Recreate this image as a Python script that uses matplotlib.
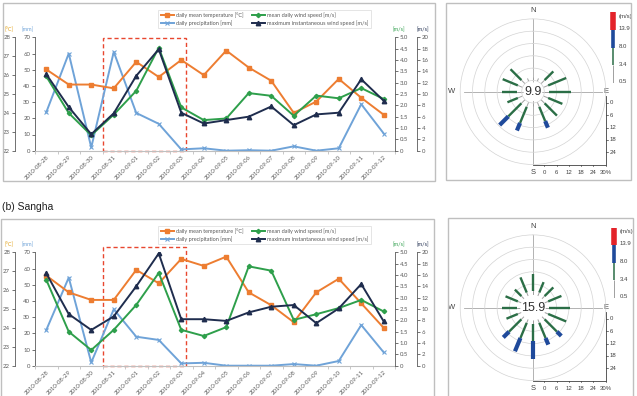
import numpy as np
import matplotlib.pyplot as plt
from matplotlib.patches import Rectangle

plt.rcParams['font.family'] = ['Lato', 'DejaVu Sans']

W, H = 637, 396

dates = ['2010-08-28', '2010-08-29', '2010-08-30', '2010-08-31',
         '2010-09-01', '2010-09-02', '2010-09-03', '2010-09-04',
         '2010-09-05', '2010-09-06', '2010-09-07', '2010-09-08',
         '2010-09-09', '2010-09-10', '2010-09-11', '2010-09-12']

# (a) upper station
temp_a = [26.3, 25.5, 25.5, 25.3, 26.7, 25.9, 26.8, 26.0, 27.3, 26.4, 25.7, 24.0, 24.6, 25.8, 24.8, 23.9]
prec_a = [23.7, 60.0, 2.0, 61.0, 23.3, 16.6, 0.8, 1.5, 0.0, 0.3, 0.0, 2.7, 0.0, 1.5, 28.7, 10.6]
wind_a = [3.28, 1.66, 0.68, 1.59, 2.64, 4.54, 1.91, 1.35, 1.42, 2.54, 2.42, 1.54, 2.43, 2.31, 2.76, 2.28]
gust_a = [13.5, 7.7, 2.9, 6.6, 13.2, 17.9, 6.7, 4.8, 5.4, 6.0, 7.8, 4.5, 6.4, 6.7, 12.6, 8.8]

# (b) Sangha
temp_b = [26.77, 25.88, 25.48, 25.48, 27.07, 26.36, 27.65, 27.28, 27.77, 25.88, 25.2, 24.3, 25.88, 26.6, 25.3, 24.0]
prec_b = [22.0, 54.4, 2.0, 34.8, 17.9, 15.9, 1.4, 1.8, 0.0, 0.0, 0.0, 1.0, 0.0, 2.9, 25.1, 8.2]
wind_b = [3.79, 1.5, 0.69, 1.58, 2.68, 4.09, 1.58, 1.31, 1.7, 4.38, 4.19, 2.02, 2.27, 2.54, 2.9, 2.39]
gust_b = [16.3, 9.1, 6.3, 8.7, 14.0, 19.8, 8.2, 8.2, 7.9, 9.4, 10.4, 10.7, 7.5, 10.1, 14.4, 7.8]

# highlighted period, in category positions
highlight = (2.5, 6.2)

# wind roses: percent of time per direction and speed class
directions = ['N', 'NNE', 'NE', 'ENE', 'E', 'ESE', 'SE', 'SSE',
              'S', 'SSW', 'SW', 'WSW', 'W', 'WNW', 'NW', 'NNW']
speed_bounds = ['0.5', '3.4', '8.0', '13.9']

calm_a = 9.9
low_a = [1.5, 1.5, 2.5, 2.5, 2.5, 2.5, 2.5, 2.5, 1.5, 2.5, 2.5, 2.5, 2.5, 2.5, 2.5, 1.5]
mid_a = [0.0, 0.0, 6.0, 9.5, 10.5, 7.5, 8.5, 7.5, 0.0, 8.5, 9.0, 5.5, 7.0, 8.0, 7.5, 0.0]
high_a = [0.0, 0.0, 0.0, 0.0, 0.0, 0.0, 0.0, 3.5, 0.0, 4.0, 6.0, 0.0, 0.0, 0.0, 0.0, 0.0]
top_a = [0.0] * 16

calm_b = 15.9
low_b = [2.5, 2.5, 2.5, 2.5, 2.5, 2.5, 2.5, 2.5, 2.5, 2.5, 2.5, 2.5, 2.5, 2.5, 2.5, 2.5]
mid_b = [8.5, 5.5, 6.0, 7.0, 10.0, 9.5, 8.5, 8.0, 8.0, 8.0, 8.5, 6.0, 7.0, 6.5, 4.5, 8.0]
high_b = [0.0, 0.0, 0.0, 0.0, 0.0, 0.0, 3.0, 3.5, 9.0, 7.0, 4.0, 0.0, 0.0, 0.0, 0.0, 0.0]
top_b = [0.0] * 16

orange = '#ED7D31'
lblue = '#6FA3D8'
green = '#2E9F4B'
navy = '#1F2D4E'
axis_col = '#595959'

fig = plt.figure(figsize=(W / 100, H / 100), dpi=100)


def frame(x0, y0, x1, y1):
    fig.add_artist(Rectangle((x0 / W, 1 - y1 / H), (x1 - x0) / W, (y1 - y0) / H,
                             transform=fig.transFigure, fill=False,
                             ec='#BFBFBF', lw=1.0))


def line_chart(top, temp, prec, wind, gust, rect_top, legend_top):
    hgt = 113.4
    ax = fig.add_axes([35 / W, 1 - (top + hgt) / H, 360 / W, hgt / H])
    ax.patch.set_alpha(0)
    x = np.arange(len(dates))
    axT = ax.twinx()
    axW = ax.twinx()
    axG = ax.twinx()

    lp, = ax.plot(x, prec, color=lblue, lw=1.4, marker='x', ms=3.5, mew=0.8)
    lt, = axT.plot(x, temp, color=orange, lw=1.4, marker='s', ms=2.8)
    lw_, = axW.plot(x, wind, color=green, lw=1.4, marker='D', ms=2.2)
    lg, = axG.plot(x, gust, color=navy, lw=1.4, marker='^', ms=3.2)

    ax.add_patch(Rectangle((highlight[0], 0), highlight[1] - highlight[0], rect_top,
                           fill=False, ec='#E8472F', lw=1.0, ls=(0, (3, 2)),
                           clip_on=False, zorder=0))

    ax.set_xlim(-0.5, len(dates) - 0.5)
    ax.set_ylim(0, 70)
    ax.set_yticks(np.arange(0, 71, 10))
    axT.set_ylim(22, 28)
    axT.set_yticks(np.arange(22, 29, 1))
    axW.set_ylim(0, 5)
    axW.set_yticks(np.arange(0, 5.01, 0.5))
    axW.set_yticklabels(['0'] + ['%.1f' % v for v in np.arange(0.5, 5.01, 0.5)])
    axG.set_ylim(0, 20)
    axG.set_yticks(np.arange(0, 21, 2))

    for a in (ax, axT, axW, axG):
        for s in a.spines.values():
            s.set_visible(False)
        a.tick_params(axis='y', length=2, width=0.6, color=axis_col,
                      labelsize=4.3, labelcolor=axis_col, pad=1.5)
    ax.spines['left'].set_visible(True)
    ax.spines['bottom'].set_visible(True)
    ax.spines['bottom'].set(color='#BFBFBF', lw=0.8)
    axT.yaxis.tick_left()
    axT.spines['left'].set_visible(True)
    axT.spines['left'].set_position(('outward', 14.4))
    axW.spines['right'].set_visible(True)
    axG.spines['right'].set_visible(True)
    axG.spines['right'].set_position(('outward', 15.8))
    for a, side in ((ax, 'left'), (axT, 'left'), (axW, 'right'), (axG, 'right')):
        a.spines[side].set(color=axis_col, lw=0.6)

    ax.set_xticks(x)
    ax.set_xticklabels(dates, rotation=45, ha='right', rotation_mode='anchor',
                       fontsize=4.3, color=axis_col)
    ax.tick_params(axis='x', length=0, pad=3)
    ax.set_xticks(np.arange(-0.5, len(dates)), minor=True)
    ax.tick_params(axis='x', which='minor', length=2, width=0.6, color='#BFBFBF')

    ty = 1 - (top - 8) / H
    fig.text(8.6 / W, ty, '[°C]', color='#E2A21B', fontsize=4, ha='center', va='center')
    fig.text(28 / W, ty, '[mm]', color=lblue, fontsize=4, ha='center', va='center')
    fig.text(398.5 / W, ty, '[m/s]', color=green, fontsize=4, ha='center', va='center')
    fig.text(422.5 / W, ty, '[m/s]', color=navy, fontsize=4, ha='center', va='center')

    leg = fig.legend([lt, lp, lw_, lg],
                     ['daily mean temperature [°C]', 'daily precipitation [mm]',
                      'mean daily wind speed [m/s]',
                      'maximum instantaneous wind speed [m/s]'],
                     loc='upper left', bbox_to_anchor=(155 / W, 1 - legend_top / H),
                     ncol=2, fontsize=4, frameon=True, fancybox=False,
                     handlelength=2.4, handletextpad=0.4, columnspacing=1.4,
                     borderpad=0.5, labelspacing=0.3, labelcolor=axis_col)
    leg.get_frame().set(edgecolor='#D9D9D9', lw=0.6)


def wind_rose(cx, cy, calm, classes, leg_x, leg_bottom, seg):
    R = 72.8
    pos = [(cx - R) / W, 1 - (cy + R) / H, 2 * R / W, 2 * R / H]
    lim = 35.5
    off = 5.5
    deco = fig.add_axes(pos)
    deco.set_xlim(-lim, lim)
    deco.set_ylim(-lim, lim)
    deco.axis('off')
    deco.plot([-lim + 2, lim - 2], [0, 0], color='#A6A6A6', lw=0.6)
    deco.plot([0, 0], [-lim, lim], color='#A6A6A6', lw=0.6)
    deco.plot([lim, lim, 0], [-2.2, -lim, -lim], color='#404040', lw=0.6, clip_on=False)
    for p in [0, 6, 12, 18, 24]:
        deco.plot([lim, lim + 0.9], [-(off + p)] * 2, color='#404040', lw=0.5, clip_on=False)
        deco.text(lim + 2.0, -(off + p), str(p), ha='left', va='center',
                  fontsize=4.3, family='Liberation Sans', color='#404040')
    for p in [0, 6, 12, 18, 24, 30]:
        deco.plot([off + p] * 2, [-lim, -lim - 0.9], color='#404040', lw=0.5, clip_on=False)
        deco.text(off + p, -39.3, str(p) + ('%' if p == 30 else ''), ha='center',
                  va='center', fontsize=4.3, family='Liberation Sans', color='#404040')
    for lab, (tx, ty) in zip('NESW', [(0, 39.8), (lim, 0), (0, -39.3), (-39.5, 0)]):
        deco.text(tx, ty, lab, ha='center', va='center', fontsize=5.5,
                  family='Liberation Sans', color='#404040',
                  bbox=dict(fc='white', ec='none', pad=0.3) if lab == 'E' else None)

    ax = fig.add_axes(pos, projection='polar')
    ax.patch.set_alpha(0)
    ax.set_theta_zero_location('N')
    ax.set_theta_direction(-1)
    ax.set_ylim(0, 30)
    ax.set_rorigin(-off)
    ax.set_xticks([])
    ax.set_yticks([6, 12, 18, 24])
    ax.set_yticklabels([])
    ax.yaxis.grid(True, color='#D3D3D3', lw=0.5)
    for name in ('polar', 'inner'):
        ax.spines[name].set(color='#D3D3D3', lw=0.5)
    theta = np.deg2rad(np.arange(len(directions)) * 22.5)
    bottom = np.zeros(len(directions))
    styles = [('#A0A0A0', 0.7), ('#2B6E46', 1.7), ('#1F4A9B', 3.0), ('#E3232A', 4.0)]
    for vals, (c, lw) in zip(classes, styles):
        vals = np.array(vals)
        ax.vlines(theta, bottom, bottom + vals, colors=c, lw=lw)
        bottom = bottom + vals
    ax.text(0.5, 0.5, '%.1f' % calm, transform=ax.transAxes, ha='center', va='center',
            fontsize=9, family='Liberation Sans', color='#303030',
            bbox=dict(boxstyle='circle,pad=0.05', fc='white', ec='none'))

    lg = fig.add_axes([(leg_x - 10) / W, 1 - leg_bottom / H, 30 / W, 4 * seg / H])
    lg.set_xlim(0, 30)
    lg.set_ylim(0, 4)
    lg.axis('off')
    lg.vlines([10] * 4, [0, 1, 2, 3], [1, 2, 3, 4],
              colors=[s[0] for s in styles], lw=[0.7, 1.1, 2.6, 4.0])
    for i, lab in enumerate(speed_bounds):
        lg.text(15, i + 0.07, lab, ha='left', va='center', fontsize=4.3,
                family='Liberation Sans', color='#404040')
    lg.text(15, 3.75, '(m/s)', ha='left', va='center', fontsize=4.3,
            family='Liberation Sans', color='#404040')


frame(3, 3, 435, 181)
frame(1, 219, 434, 400)
frame(446, 3, 631, 180)
frame(448, 218, 633, 400)

line_chart(37.3, temp_a, prec_a, wind_a, gust_a, 69.3, 7)
line_chart(252.3, temp_b, prec_b, wind_b, gust_b, 73.0, 223)

wind_rose(533, 91.7, calm_a, [low_a, mid_a, high_a, top_a], 613.3, 83, 17.7)
wind_rose(533, 307.7, calm_b, [low_b, mid_b, high_b, top_b], 614.3, 298, 17.6)

fig.text(2 / W, 1 - 207 / H, '(b) Sangha', fontsize=7.5, family='Liberation Sans',
         ha='left', va='center', color='#202020')

fig.savefig('out.png', dpi=100)
